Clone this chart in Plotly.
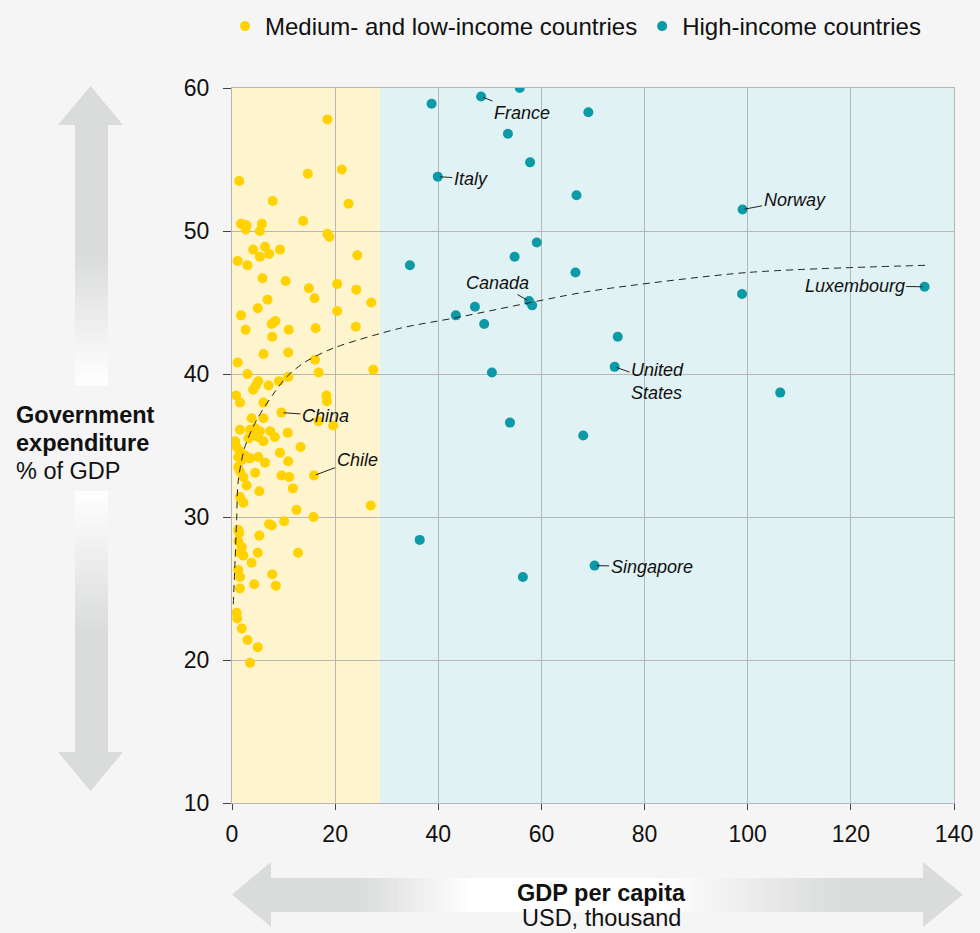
import plotly.graph_objects as go

# ---------------- data ----------------
low_gdp = [18.5, 1.4, 14.7, 21.3, 7.9, 22.6, 13.8, 1.75, 2.8, 2.65, 5.8, 5.4, 18.5, 18.9,
           4.1, 6.4, 5.4, 7.2, 9.3, 1.1, 3.0, 24.3, 5.9, 10.4, 20.4, 14.9, 24.1, 16.0,
           6.9, 27.0, 5.0, 20.4, 1.75, 8.4, 7.7, 2.65, 11.0, 16.2, 24.0, 7.8, 6.1, 10.9,
           1.1, 16.1, 16.8, 27.4, 3.0, 10.9, 9.1, 5.1, 4.6, 4.1, 7.1, 0.8, 1.55, 6.1,
           18.3, 18.4, 9.6, 3.8, 6.1, 16.8, 19.6,
           1.55, 3.5, 4.5, 5.4, 4.1, 5.1, 6.1, 7.4, 8.3, 10.8, 3.2, 0.6, 0.9, 1.55,
           1.2, 1.9, 2.5, 3.5, 5.1, 6.4, 9.3, 10.9, 13.3, 1.2, 1.55, 2.2, 2.85, 4.5,
           5.3, 9.6, 11.1, 11.8, 15.9, 12.5, 15.8, 26.9, 1.55, 2.2, 7.2, 7.7, 10.1,
           1.2, 1.4, 1.2, 1.9, 1.55, 2.2, 5.3, 5.0, 3.8, 1.2, 1.55, 1.55, 4.3, 7.8,
           8.5, 12.8, 0.9, 1.0, 1.9, 3.0, 5.0, 3.5]
low_exp = [57.8, 53.5, 54.0, 54.3, 52.1, 51.9, 50.7, 50.5, 50.4, 50.1, 50.5, 50.0, 49.8, 49.6,
           48.7, 48.9, 48.2, 48.4, 48.7, 47.9, 47.6, 48.3, 46.7, 46.5, 46.3, 46.0, 45.9, 45.3,
           45.2, 45.0, 44.6, 44.4, 44.1, 43.7, 43.5, 43.1, 43.1, 43.2, 43.3, 42.6, 41.4, 41.5,
           40.8, 41.0, 40.1, 40.3, 40.0, 39.8, 39.5, 39.5, 39.2, 38.9, 39.2, 38.5, 38.0, 38.0,
           38.5, 38.1, 37.3, 36.9, 36.9, 36.7, 36.4,
           36.1, 36.1, 36.2, 36.0, 35.7, 35.6, 35.3, 36.0, 35.6, 35.9, 35.5, 35.3, 34.9, 34.6,
           34.2, 34.0, 34.3, 34.1, 34.2, 33.8, 34.5, 33.9, 34.9, 33.5, 33.2, 32.8, 32.2, 33.1,
           31.8, 32.9, 32.8, 32.0, 32.9, 30.5, 30.0, 30.8, 31.4, 31.0, 29.5, 29.4, 29.7,
           29.1, 28.9, 28.3, 27.9, 27.5, 27.3, 28.7, 27.5, 26.8, 26.3, 25.8, 25.0, 25.3, 26.0,
           25.2, 27.5, 23.3, 22.9, 22.2, 21.4, 20.9, 19.8]

high_gdp = [55.8, 38.7, 48.3, 69.1, 53.5, 57.8, 39.9, 66.8, 99.0, 59.1, 54.8, 34.5, 66.6, 98.9,
            134.3, 57.6, 58.2, 47.1, 43.4, 48.9, 74.8, 74.2, 50.4, 106.3, 53.9, 68.1, 36.4,
            70.3, 56.4]
high_exp = [60.0, 58.9, 59.4, 58.3, 56.8, 54.8, 53.8, 52.5, 51.5, 49.2, 48.2, 47.6, 47.1, 45.6,
            46.1, 45.1, 44.8, 44.7, 44.1, 43.5, 42.6, 40.5, 40.1, 38.7, 36.6, 35.7, 28.4,
            26.6, 25.8]

# trend line, points
trend_gdp = [0.25, 0.6, 0.9, 1.2, 2.5, 4.8, 8.0, 10.6, 14.0, 19.6, 32.6, 42.9, 64.9, 71.4, 100.0, 134.4]
trend_exp = [23.9, 27.0, 29.8, 32.5, 34.9, 36.8, 38.6, 39.8, 40.8, 41.8, 43.2, 43.9, 45.5, 45.9, 47.1, 47.6]

# labelled countries: name, series, index into that series
label_names = ["France", "Italy", "Norway", "Canada", "Luxembourg", "United<br>States",
               "Singapore", "China", "Chile"]
label_series = ["high", "high", "high", "high", "high", "high", "high", "low", "low"]
label_index = [2, 6, 8, 15, 14, 21, 27, 58, 95]

income_threshold = 28.7
x_range = [0, 140]
y_range = [10, 60]
x_ticks = [0, 20, 40, 60, 80, 100, 120, 140]
y_ticks = [10, 20, 30, 40, 50, 60]

legend_names = ["Medium- and low-income countries", "High-income countries"]

# ---------------- style ----------------
FONT = "Liberation Sans, Arial, sans-serif"
YELLOW = "#ffd200"
TEAL = "#0c9aa6"
BG = "#f5f5f5"
GRID = "#b7b7b7"
ARROW_GRAY = (218, 219, 219)

W, H = 980, 933
ML, MR, MT, MB = 232, 26, 88, 130
PW, PH = W - ML - MR, H - MT - MB


def px_x(X):
    return (X - ML) / PW


def px_y(Y):
    return (H - MB - Y) / PH


def mix(t):
    # t=0 gray, t=1 white
    r, g, b = [round(c + (255 - c) * t) for c in ARROW_GRAY]
    return f"rgb({r},{g},{b})"


fig = go.Figure()

fig.add_trace(go.Scatter(
    x=low_gdp, y=low_exp, mode="markers", name=legend_names[0],
    marker=dict(color=YELLOW, size=10, line=dict(width=0)),
    hoverinfo="x+y"))
fig.add_trace(go.Scatter(
    x=high_gdp, y=high_exp, mode="markers", name=legend_names[1],
    marker=dict(color=TEAL, size=10, line=dict(width=0)),
    hoverinfo="x+y"))
fig.add_trace(go.Scatter(
    x=trend_gdp, y=trend_exp, mode="lines", showlegend=False,
    line=dict(color="#222222", width=1, dash="7px,5px", shape="spline", smoothing=0.8),
    hoverinfo="skip"))

shapes = []
# background bands
shapes.append(dict(type="rect", xref="x", yref="y", x0=x_range[0], x1=income_threshold,
                   y0=y_range[0], y1=y_range[1], fillcolor="#fef5cf", line=dict(width=0), layer="below"))
shapes.append(dict(type="rect", xref="x", yref="y", x0=income_threshold, x1=x_range[1],
                   y0=y_range[0], y1=y_range[1], fillcolor="#e1f2f4", line=dict(width=0), layer="below"))


def band_rect(x0, x1, y0, y1, color):
    shapes.append(dict(type="rect", xref="paper", yref="paper",
                       x0=px_x(x0), x1=px_x(x1), y0=px_y(y0), y1=px_y(y1),
                       fillcolor=color, line=dict(width=0), layer="above"))


def tri(points, color):
    path = "M " + " L ".join(f"{px_x(a)},{px_y(b)}" for a, b in points) + " Z"
    shapes.append(dict(type="path", xref="paper", yref="paper", path=path,
                       fillcolor=color, line=dict(width=0), layer="above"))


# vertical arrow (y axis)
tri([(58, 125), (123, 125), (90.5, 86)], mix(0))
tri([(58, 752), (123, 752), (90.5, 791)], mix(0))
N = 24
top0, top_fade, top1 = 125, 255, 385
band_rect(75, 108, top0, top_fade, mix(0))
for i in range(N):
    a = top_fade + (top1 - top_fade) * i / N
    b = top_fade + (top1 - top_fade) * (i + 1) / N
    band_rect(75, 108, a, b + 0.5, mix((i + 0.5) / N))
bot0, bot_fade, bot1 = 491, 630, 752
band_rect(75, 108, bot_fade, bot1, mix(0))
for i in range(N):
    a = bot0 + (bot_fade - bot0) * i / N
    b = bot0 + (bot_fade - bot0) * (i + 1) / N
    band_rect(75, 108, a, b + 0.5, mix(1 - (i + 0.5) / N))

# horizontal arrow (x axis)
tri([(271, 862), (271, 927), (232, 894.5)], mix(0))
tri([(923, 862), (923, 927), (963, 894.5)], mix(0))
band_rect(271, 360, 878, 912, mix(0))
for i in range(N):
    a = 360 + (470 - 360) * i / N
    b = 360 + (470 - 360) * (i + 1) / N
    band_rect(a, b + 0.5, 878, 912, mix((i + 0.5) / N))
band_rect(470, 660, 878, 912, mix(1))
for i in range(N):
    a = 660 + (840 - 660) * i / N
    b = 660 + (840 - 660) * (i + 1) / N
    band_rect(a, b + 0.5, 878, 912, mix(1 - (i + 0.5) / N))
band_rect(840, 923.5, 878, 912, mix(0))

# ---------------- annotations ----------------
label_offsets = {
    "France": (41, 16), "Italy": (33, 2), "Norway": (52, -10), "Canada": (-32, -18),
    "Luxembourg": (-70, -1), "United<br>States": (43, 15), "Singapore": (57, 1),
    "China": (44, 3), "Chile": (43, -16),
}
annotations = []
for name, ser, idx in zip(label_names, label_series, label_index):
    xs, ys = (high_gdp, high_exp) if ser == "high" else (low_gdp, low_exp)
    ax, ay = label_offsets[name]
    annotations.append(dict(
        x=xs[idx], y=ys[idx], xref="x", yref="y", text=f"<i>{name}</i>",
        showarrow=True, arrowhead=0, arrowwidth=1, arrowcolor="#222222", standoff=2,
        ax=ax, ay=ay, align="left",
        font=dict(family=FONT, size=18, color="#111111")))

title_font = 23.5
for txt, Y in [("<b>Government</b>", 415), ("<b>expenditure</b>", 443), ("% of GDP", 471)]:
    annotations.append(dict(x=px_x(14), y=px_y(Y), xref="paper", yref="paper", text=txt,
                            showarrow=False, xanchor="left", yanchor="middle",
                            font=dict(family=FONT, size=title_font, color="#111111")))
for txt, Y in [("<b>GDP per capita</b>", 893), ("USD, thousand", 918)]:
    annotations.append(dict(x=px_x(601.5), y=px_y(Y), xref="paper", yref="paper", text=txt,
                            showarrow=False, xanchor="center", yanchor="middle",
                            font=dict(family=FONT, size=title_font, color="#111111")))

fig.update_layout(
    width=W, height=H,
    margin=dict(l=ML, r=MR, t=MT, b=MB, autoexpand=False),
    paper_bgcolor=BG, plot_bgcolor="#e1f2f4",
    font=dict(family=FONT, size=23, color="#111111"),
    showlegend=True,
    legend=dict(orientation="h", x=px_x(225), y=px_y(4), xanchor="left", yanchor="top",
                font=dict(family=FONT, size=24, color="#111111"), bgcolor="rgba(0,0,0,0)",
                itemclick=False, itemdoubleclick=False),
    shapes=shapes, annotations=annotations,
    xaxis=dict(range=x_range, tickvals=x_ticks, showgrid=True, gridcolor=GRID, gridwidth=1,
               zeroline=False, showline=True, linecolor=GRID, linewidth=1, mirror=True,
               ticks="outside", ticklen=6, tickcolor="#444444", ticklabelstandoff=4,
               tickfont=dict(family=FONT, size=23, color="#111111"), fixedrange=True),
    yaxis=dict(range=y_range, tickvals=y_ticks, showgrid=True, gridcolor=GRID, gridwidth=1,
               zeroline=False, showline=True, linecolor=GRID, linewidth=1, mirror=True,
               ticks="outside", ticklen=8, tickcolor="#444444", ticklabelstandoff=9,
               tickfont=dict(family=FONT, size=23, color="#111111"), fixedrange=True),
)

fig.write_html(
    "out.html",
    config={"displayModeBar": False},
    post_script="document.body.style.margin='0';document.body.style.overflow='hidden';",
)
